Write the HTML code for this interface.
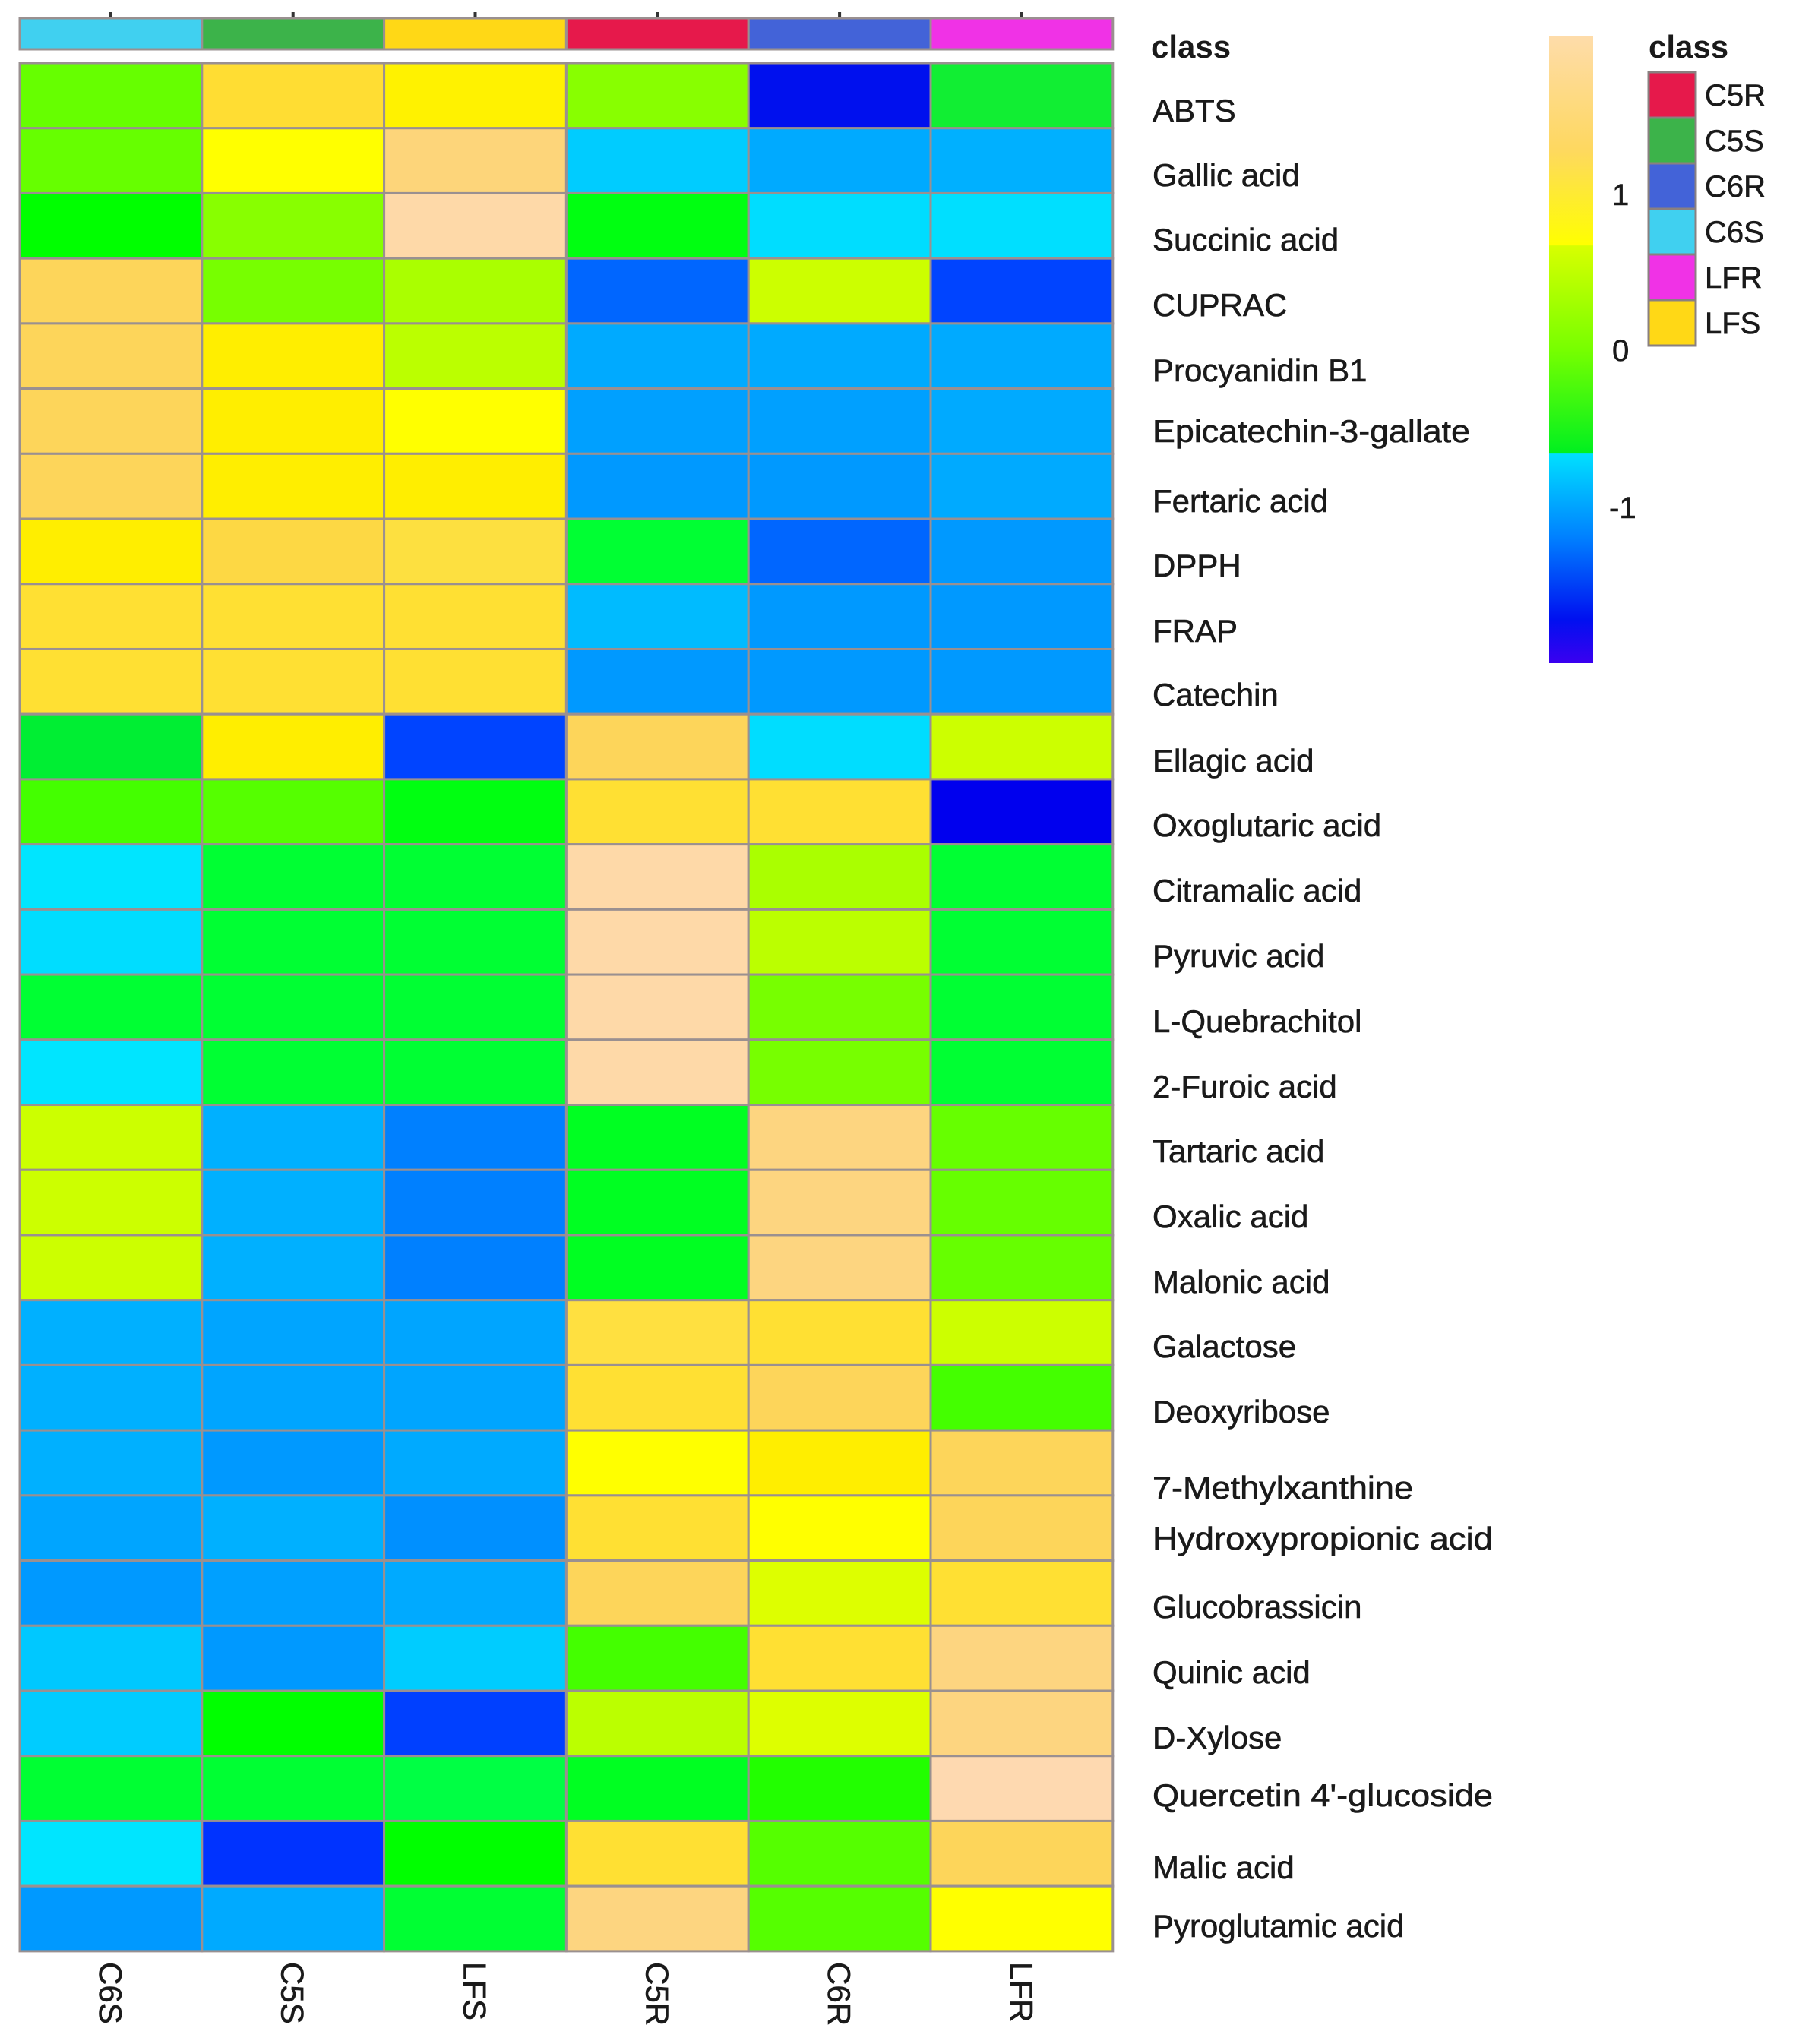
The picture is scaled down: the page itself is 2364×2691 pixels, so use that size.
<!DOCTYPE html>
<html><head><meta charset="utf-8"><style>
html,body{margin:0;padding:0;background:#fff;}
svg{display:block;}
text{font-family:"Liberation Sans",Arial,sans-serif;fill:#1a1a1a;}
</style></head><body>
<svg width="2364" height="2691" viewBox="0 0 2364 2691" xmlns="http://www.w3.org/2000/svg">
<defs>
<linearGradient id="cb" x1="0" y1="0" x2="0" y2="1">
<stop offset="0" stop-color="#fedcaa"/>
<stop offset="0.18" stop-color="#fed860"/>
<stop offset="0.333" stop-color="#ffff00"/>
<stop offset="0.334" stop-color="#d8ff00"/>
<stop offset="0.5" stop-color="#77ff00"/>
<stop offset="0.665" stop-color="#00f020"/>
<stop offset="0.666" stop-color="#00e0ff"/>
<stop offset="0.8" stop-color="#0080ff"/>
<stop offset="0.93" stop-color="#0010f0"/>
<stop offset="1" stop-color="#3a00f0"/>
</linearGradient>
</defs>
<g id="cls" stroke="#9a9090" stroke-width="3"></g>
<g id="hm" stroke="#9a9090" stroke-width="3"></g>
<g id="lab" font-size="42" stroke="#1a1a1a" stroke-width="0.6"></g>
<g id="bot" font-size="42" stroke="#1a1a1a" stroke-width="0.6"></g>
<rect x="2039" y="48" width="58" height="825" fill="url(#cb)"/>
<g font-size="40" stroke="#1a1a1a" stroke-width="0.6">
<text x="2122" y="270">1</text>
<text x="2122" y="475">0</text>
<text x="2118" y="682">-1</text>
</g>
<text x="1515" y="76" font-size="42" font-weight="bold">class</text>
<text x="2170" y="76" font-size="42" font-weight="bold">class</text>
<g stroke="#8a8080" stroke-width="3">
<rect x="2170" y="95" width="62" height="60" fill="#e6194b"/>
<rect x="2170" y="155" width="62" height="60" fill="#3cb34a"/>
<rect x="2170" y="215" width="62" height="60" fill="#4363d8"/>
<rect x="2170" y="275" width="62" height="60" fill="#40d0f0"/>
<rect x="2170" y="335" width="62" height="60" fill="#f032e6"/>
<rect x="2170" y="395" width="62" height="60" fill="#ffd816"/>
</g>
<g font-size="40" stroke="#1a1a1a" stroke-width="0.6">
<text x="2244" y="139">C5R</text>
<text x="2244" y="199">C5S</text>
<text x="2244" y="259">C6R</text>
<text x="2244" y="319">C6S</text>
<text x="2244" y="379">LFR</text>
<text x="2244" y="439">LFS</text>
</g>
</svg>
<script>
const ns="http://www.w3.org/2000/svg";
const X0=26,CW=239.8,Y0=83,RH=85.72;
const clsC=["#40d0f0","#3cb34a","#ffd816","#e6194b","#4363d8","#f032e6"];
const g1=document.getElementById("cls");
clsC.forEach((c,i)=>{const r=document.createElementNS(ns,"rect");r.setAttribute("x",X0+i*CW);r.setAttribute("y",24);r.setAttribute("width",CW);r.setAttribute("height",41);r.setAttribute("fill",c);g1.appendChild(r);
const t=document.createElementNS(ns,"rect");t.setAttribute("x",X0+i*CW+CW/2-2);t.setAttribute("y",16);t.setAttribute("width",4);t.setAttribute("height",7);t.setAttribute("fill","#333");t.setAttribute("stroke","none");g1.appendChild(t);});
const D=[
["ABTS",145,"#66ff00","#ffdd33","#fff200","#88ff00","#0010ee","#11ee33"],
["Gallic acid",230,"#66ff00","#ffff00","#fdd57a","#00ccff","#00aaff","#00b0ff"],
["Succinic acid",315,"#00ff00","#88ff00","#fed9a8","#00ff11","#00ddff","#00dfff"],
["CUPRAC",401,"#fdd55a","#77ff00","#aaff00","#0066ff","#ccff00","#0044ff"],
["Procyanidin B1",487,"#fdd55a","#ffee00","#bbff00","#00aaff","#00aaff","#00aaff"],
["Epicatechin-3-gallate",567,"#fdd55a","#ffee00","#ffff00","#00a0ff","#00a0ff","#00aaff"],
["Fertaric acid",659,"#fdd55a","#ffee00","#ffee00","#0099ff","#0099ff","#00aaff"],
["DPPH",744,"#ffee00","#fdd844","#fde040","#00ff33","#0066ff","#0099ff"],
["FRAP",830,"#ffe033","#ffe033","#ffe033","#00bbff","#0099ff","#0099ff"],
["Catechin",914,"#ffe033","#ffe033","#ffe033","#0099ff","#0099ff","#0099ff"],
["Ellagic acid",1001,"#00ee33","#ffee00","#0044ff","#fdd55a","#00ddff","#ccff00"],
["Oxoglutaric acid",1086,"#44ff00","#55ff00","#00ff11","#ffe033","#ffe033","#0000ee"],
["Citramalic acid",1172,"#00e5ff","#00ff33","#00ff33","#fed9a8","#aaff00","#00ff33"],
["Pyruvic acid",1258,"#00ddff","#00ff33","#00ff33","#fed9a8","#bbff00","#00ff33"],
["L-Quebrachitol",1344,"#00ff33","#00ff33","#00ff33","#fed9a8","#77ff00","#00ff33"],
["2-Furoic acid",1430,"#00e5ff","#00ff33","#00ff33","#fed9a8","#77ff00","#00ff33"],
["Tartaric acid",1515,"#ccff00","#00b0ff","#0080ff","#00ff22","#fdd580","#66ff00"],
["Oxalic acid",1601,"#ccff00","#00b0ff","#0080ff","#00ff22","#fdd580","#66ff00"],
["Malonic acid",1687,"#ccff00","#00b0ff","#0080ff","#00ff22","#fdd580","#66ff00"],
["Galactose",1772,"#00b0ff","#00a5ff","#00a5ff","#ffe040","#ffe033","#ccff00"],
["Deoxyribose",1858,"#00b0ff","#00a5ff","#00a5ff","#ffe033","#fdd55a","#44ff00"],
["7-Methylxanthine",1958,"#00b0ff","#0099ff","#00aaff","#ffff00","#ffee00","#fdd55a"],
["Hydroxypropionic acid",2025,"#00a5ff","#00b0ff","#0090ff","#ffe033","#ffff00","#fdd55a"],
["Glucobrassicin",2115,"#0099ff","#00a0ff","#00aaff","#fdd55a","#ddff00","#ffe033"],
["Quinic acid",2201,"#00c8ff","#0099ff","#00ccff","#44ff00","#ffe033","#fdd580"],
["D-Xylose",2287,"#00ccff","#00ff00","#0040ff","#bbff00","#ddff00","#fdd580"],
["Quercetin 4'-glucoside",2363,"#00ff33","#00ff33","#00ff44","#00ff22","#22ff00","#fed9b0"],
["Malic acid",2458,"#00e5ff","#0033ff","#00ff00","#ffe033","#55ff00","#fdd55a"],
["Pyroglutamic acid",2535,"#0099ff","#00aaff","#00ff33","#fdd580","#55ff00","#ffff00"]];
const hm=document.getElementById("hm"),lab=document.getElementById("lab");
const fit={"Epicatechin-3-gallate":418,"Hydroxypropionic acid":448,"Quercetin 4'-glucoside":448,"7-Methylxanthine":343};
D.forEach((row,j)=>{for(let i=0;i<6;i++){const r=document.createElementNS(ns,"rect");r.setAttribute("x",X0+i*CW);r.setAttribute("y",Y0+j*RH);r.setAttribute("width",CW);r.setAttribute("height",RH);r.setAttribute("fill",row[2+i]);hm.appendChild(r);}
const t=document.createElementNS(ns,"text");t.setAttribute("x",1517);t.setAttribute("y",row[1]+15);if(fit[row[0]]){t.setAttribute("textLength",fit[row[0]]);t.setAttribute("lengthAdjust","spacingAndGlyphs");}t.textContent=row[0];lab.appendChild(t);});
const bot=document.getElementById("bot");
["C6S","C5S","LFS","C5R","C6R","LFR"].forEach((s,i)=>{const t=document.createElementNS(ns,"text");const cx=X0+i*CW+CW/2;t.setAttribute("transform",`translate(${cx-15},2583) rotate(90)`);t.textContent=s;bot.appendChild(t);});
</script>
</body></html>
